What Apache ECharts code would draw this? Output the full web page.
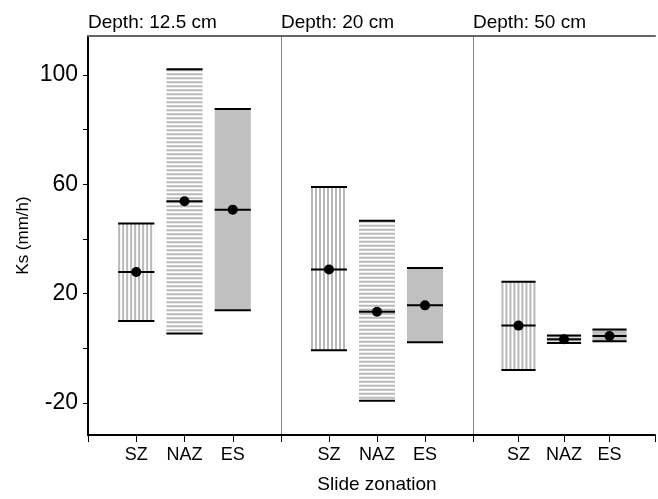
<!DOCTYPE html>
<html>
<head>
<meta charset="utf-8">
<script src="https://cdn.jsdelivr.net/npm/echarts@6/dist/echarts.min.js"></script>
<style>html,body{margin:0;padding:0;background:#fff}#c{width:658px;height:499px}</style>
</head>
<body>
<div id="c"></div>
<script>
var categories = ['SZ', 'NAZ', 'ES'];
var depths = ['Depth: 12.5 cm', 'Depth: 20 cm', 'Depth: 50 cm'];
var low12 = [10.0, 5.4, 13.9];
var med12 = [27.9, 53.8, 50.7];
var high12 = [45.6, 102.0, 87.5];
var low20 = [-0.7, -19.2, 2.2];
var med20 = [28.8, 13.4, 15.7];
var high20 = [59.0, 46.6, 29.4];
var low50 = [-7.9, 1.9, 2.6];
var med50 = [8.3, 3.3, 4.5];
var high50 = [24.3, 4.7, 6.9];
var yTicks = [-20, 0, 20, 40, 60, 80, 100];
var yLabels = [-20, 20, 60, 100];
var yMin = -31.7, yMax = 114.2;

var panels = [[low12, med12, high12], [low20, med20, high20], [low50, med50, high50]];
var FONT = '"Liberation Sans", Arial, sans-serif';
var gridLefts = [88, 281, 473];
var gridWidths = [193, 192, 193];

var xCats = [''].concat(categories).concat(['']);

function renderItem(params, api) {
  var xi = api.value(0), lo = api.value(1), md = api.value(2), hi = api.value(3);
  var pat = api.value(4);
  var pTop = api.coord([xi, hi]);
  var pBot = api.coord([xi, lo]);
  var pMed = api.coord([xi, md]);
  var w = api.size([1, 0])[0] * 0.75;
  var x0 = pTop[0] - w / 2, x1 = pTop[0] + w / 2;
  var y0 = pTop[1], y1 = pBot[1];
  var children = [];
  if (pat === 2) {
    children.push({type: 'rect', shape: {x: x0, y: y0, width: w, height: y1 - y0}, style: {fill: '#c0c0c0'}});
  } else if (pat === 0) {
    for (var x = x0; x < x1; x += 4) {
      children.push({type: 'rect', shape: {x: x, y: y0, width: Math.min(2, x1 - x), height: y1 - y0}, style: {fill: '#b8b8b8'}});
    }
  } else {
    for (var y = y0; y < y1; y += 4) {
      children.push({type: 'rect', shape: {x: x0, y: y, width: w, height: Math.min(2, y1 - y)}, style: {fill: '#b8b8b8'}});
    }
  }
  var ls = {stroke: '#000', lineWidth: 2};
  children.push({type: 'line', shape: {x1: x0, y1: y0, x2: x1, y2: y0}, style: ls});
  children.push({type: 'line', shape: {x1: x0, y1: y1, x2: x1, y2: y1}, style: ls});
  children.push({type: 'line', shape: {x1: x0, y1: pMed[1], x2: x1, y2: pMed[1]}, style: ls});
  children.push({type: 'circle', shape: {cx: pMed[0], cy: pMed[1], r: 5}, style: {fill: '#000'}});
  return {type: 'group', children: children};
}

var grids = [], xAxes = [], yAxes = [], series = [], titles = [];
for (var g = 0; g < 3; g++) {
  grids.push({left: gridLefts[g], top: 36, width: gridWidths[g], height: 399, containLabel: false});
  xAxes.push({
    type: 'category', gridIndex: g, data: xCats, boundaryGap: false, position: 'bottom',
    axisLine: {onZero: false, lineStyle: {color: '#000', width: 2}},
    axisTick: {show: true, length: 7, interval: 0, lineStyle: {color: '#000', width: 1}},
    axisLabel: {interval: 0, fontSize: 18, color: '#000', fontFamily: FONT, margin: 11},
    splitLine: {show: false},
    name: g === 1 ? 'Slide zonation' : '',
    nameLocation: 'middle', nameGap: 40,
    nameTextStyle: {fontSize: 19, color: '#000', fontFamily: FONT}
  });
  xAxes.push({
    type: 'category', gridIndex: g, data: xCats, boundaryGap: false, position: 'top',
    axisLine: {onZero: false, lineStyle: {color: '#666', width: 2}},
    axisTick: {show: false}, axisLabel: {show: false}, splitLine: {show: false}
  });
  yAxes.push({
    type: 'value', gridIndex: g, min: yMin, max: yMax,
    axisLine: {show: true, onZero: false, lineStyle: {color: g === 0 ? '#000' : '#888', width: g === 0 ? 2 : 1}},
    axisTick: {show: g === 0, length: 5, customValues: yTicks, lineStyle: {color: '#000'}},
    axisLabel: {show: g === 0, customValues: yLabels, fontSize: 23, color: '#000', fontFamily: FONT, margin: 10},
    splitLine: {show: false},
    name: g === 0 ? 'Ks (mm/h)' : '',
    nameLocation: 'middle', nameGap: 56, nameRotate: 90,
    nameTextStyle: {fontSize: 17, color: '#000', fontFamily: FONT}
  });
  var d = [];
  for (var i = 0; i < categories.length; i++) {
    d.push([categories[i], panels[g][0][i], panels[g][1][i], panels[g][2][i], i]);
  }
  series.push({
    type: 'custom', xAxisIndex: g * 2, yAxisIndex: g, renderItem: renderItem,
    encode: {x: 0, y: [1, 2, 3]}, data: d, clip: false
  });
  titles.push({text: depths[g], left: gridLefts[g], top: 13, padding: 0,
    textStyle: {fontSize: 19, fontWeight: 'normal', color: '#000', fontFamily: FONT}});
}

var chart = echarts.init(document.getElementById('c'), null, {renderer: 'canvas'});
chart.setOption({
  backgroundColor: '#fff',
  animation: false,
  title: titles,
  grid: grids,
  xAxis: xAxes,
  yAxis: yAxes,
  series: series
});
</script>
</body>
</html>
